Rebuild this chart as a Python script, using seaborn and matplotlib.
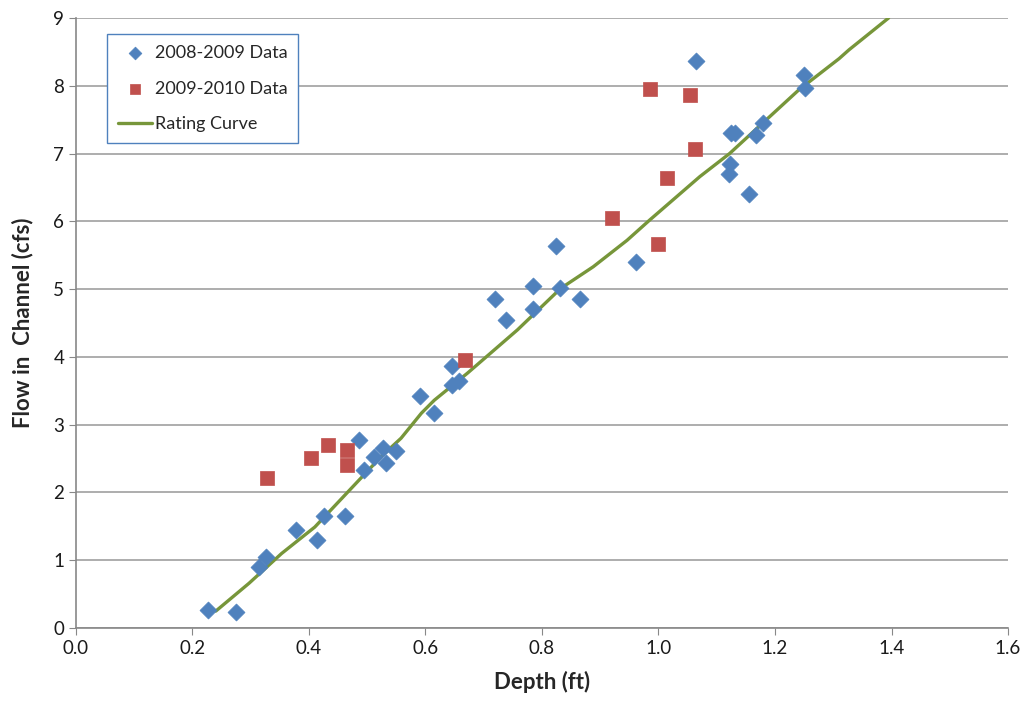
import pandas as pd
import numpy as np
import matplotlib.pyplot as plt
import seaborn as sns

# 2008-2009 data
depth_0809 = [0.227, 0.275, 0.315, 0.327, 0.377, 0.413, 0.425, 0.461, 0.485, 0.495,
              0.512, 0.527, 0.532, 0.549, 0.590, 0.615, 0.645, 0.645, 0.657, 0.719,
              0.739, 0.784, 0.784, 0.824, 0.831, 0.865, 0.961, 1.065, 1.124, 1.131,
              1.123, 1.121, 1.155, 1.168, 1.180, 1.250, 1.252]
flow_0809 = [0.27, 0.24, 0.90, 1.05, 1.44, 1.30, 1.65, 1.65, 2.78, 2.33,
             2.52, 2.65, 2.43, 2.61, 3.43, 3.17, 3.86, 3.58, 3.65, 4.85,
             4.54, 5.04, 4.70, 5.64, 5.01, 4.85, 5.40, 8.36, 7.30, 7.31,
             6.85, 6.70, 6.41, 7.27, 7.45, 8.16, 7.96]

# 2009-2010 data
depth_0910 = [0.328, 0.404, 0.432, 0.466, 0.466, 0.668, 0.921, 0.985, 1.000, 1.015, 1.054, 1.063]
flow_0910 = [2.22, 2.51, 2.70, 2.63, 2.40, 3.96, 6.05, 7.95, 5.66, 6.64, 7.86, 7.07]

# rating curve
curve_depth = [0.24, 0.297, 0.353, 0.41, 0.467, 0.524, 0.558, 0.593, 0.615, 0.672,
               0.758, 0.832, 0.888, 0.946, 0.985, 1.071, 1.122, 1.241, 1.31, 1.327, 1.395]
curve_flow = [0.25, 0.66, 1.10, 1.49, 2.01, 2.53, 2.80, 3.17, 3.36, 3.76,
              4.40, 5.01, 5.33, 5.72, 6.02, 6.66, 7.00, 7.94, 8.40, 8.53, 9.0]

df1 = pd.DataFrame({'depth': depth_0809, 'flow': flow_0809})
df2 = pd.DataFrame({'depth': depth_0910, 'flow': flow_0910})
dfc = pd.DataFrame({'depth': curve_depth, 'flow': curve_flow})

sns.set_style('white')
plt.rcParams['font.family'] = ['Lato', 'DejaVu Sans']

fig = plt.figure(figsize=(10.27, 7.11), dpi=100)
ax = fig.add_axes([0.074, 0.1167, 0.9075, 0.858])

sns.scatterplot(data=df1, x='depth', y='flow', ax=ax, marker='D', s=75,
                color='#4F81BD', edgecolor='#4F81BD', linewidth=0.5,
                label='2008-2009 Data', zorder=3)
sns.scatterplot(data=df2, x='depth', y='flow', ax=ax, marker='s', s=110,
                color='#C0504D', edgecolor='#C0504D', linewidth=0.5,
                label='2009-2010 Data', zorder=3)
sns.lineplot(data=dfc, x='depth', y='flow', ax=ax, color='#77963A', linewidth=2.4,
             label='Rating Curve', zorder=2)

ax.set_xlim(0, 1.6)
ax.set_ylim(0, 9)
ax.set_xticks(np.arange(0, 1.61, 0.2))
ax.set_xticklabels([f'{v:.1f}' for v in np.arange(0, 1.61, 0.2)])
ax.set_yticks(range(10))

ax.yaxis.grid(True, color='#A0A0A0', linewidth=1.2)
ax.xaxis.grid(False)
ax.set_axisbelow(True)
for s in ['top', 'right']:
    ax.spines[s].set_visible(False)
for s in ['left', 'bottom']:
    ax.spines[s].set_color('#888888')
    ax.spines[s].set_linewidth(1.2)
ax.tick_params(axis='both', direction='out', length=5, color='#888888',
               labelsize=13.5, labelcolor='#1a1a1a', bottom=True, left=True)

ax.set_xlabel('Depth (ft)', fontsize=16, fontweight='bold', labelpad=10)
ax.set_ylabel('Flow in  Channel (cfs)', fontsize=16, fontweight='bold', labelpad=14)

# legend box like the original: ~190 x 108 px, rows ~36 px apart
leg = ax.legend(loc='upper left', bbox_to_anchor=(0.033, 0.974), borderaxespad=0,
                fontsize=13, frameon=True, fancybox=False, framealpha=1,
                borderpad=0.6, labelspacing=1.1, handlelength=1.9,
                handletextpad=0.15, markerscale=0.75)
leg.get_frame().set_edgecolor('#4F81BD')
leg.get_frame().set_linewidth(1.0)

fig.savefig('out.png', dpi=100)
